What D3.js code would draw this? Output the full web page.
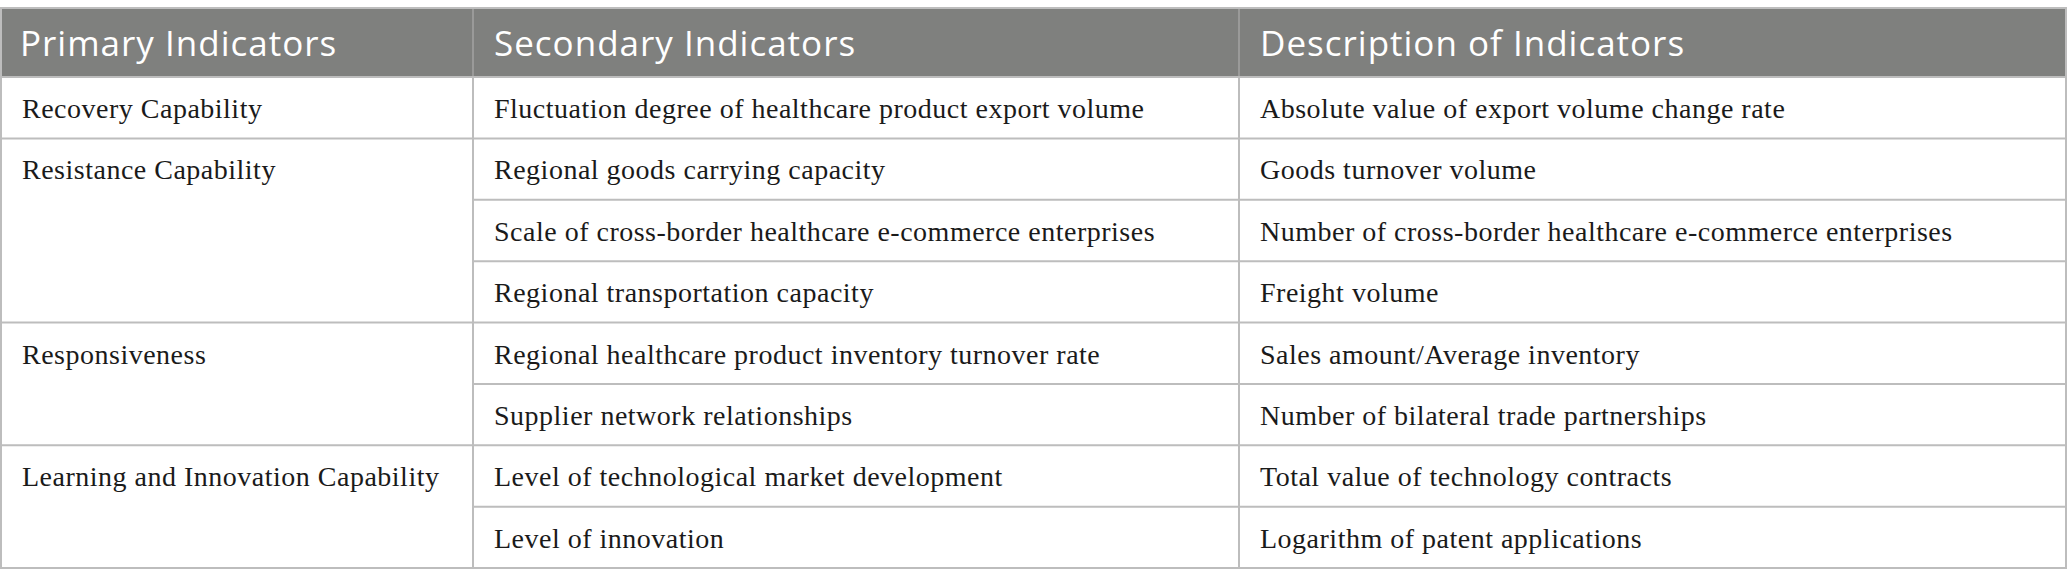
<!DOCTYPE html>
<html>
<head>
<meta charset="utf-8">
<script src="https://cdn.jsdelivr.net/npm/d3@7/dist/d3.min.js"></script>
<style>
  html, body { margin: 0; padding: 0; background: #fff; }
  svg { display: block; }
</style>
</head>
<body>
<svg id="chart" width="2067" height="586"></svg>
<script>
// ---- data ----
const headers = ["Primary Indicators", "Secondary Indicators", "Description of Indicators"];
const primaryIndicators = ["Recovery Capability", "Resistance Capability", "Responsiveness", "Learning and Innovation Capability"];
const primarySpans = [1, 3, 2, 2];
const secondaryIndicators = [
  "Fluctuation degree of healthcare product export volume",
  "Regional goods carrying capacity",
  "Scale of cross-border healthcare e-commerce enterprises",
  "Regional transportation capacity",
  "Regional healthcare product inventory turnover rate",
  "Supplier network relationships",
  "Level of technological market development",
  "Level of innovation"
];
const descriptions = [
  "Absolute value of export volume change rate",
  "Goods turnover volume",
  "Number of cross-border healthcare e-commerce enterprises",
  "Freight volume",
  "Sales amount/Average inventory",
  "Number of bilateral trade partnerships",
  "Total value of technology contracts",
  "Logarithm of patent applications"
];

// ---- layout ----
const tLeft = 1, tRight = 2066, tTop = 8, headerBottom = 77, tBottom = 568;
const colEdges = [tLeft, 473, 1239, tRight];
const padX = 21;
const lineColor = "#bdbdbd";
const headerFill = "#7f807e";

const svg = d3.select("#chart");
const nRows = secondaryIndicators.length;
const y = d3.scaleLinear().domain([0, nRows]).range([headerBottom, tBottom]);
const x = d3.scaleOrdinal().domain([0, 1, 2, 3]).range(colEdges);

// header background
svg.append("rect")
  .attr("x", tLeft).attr("y", tTop)
  .attr("width", tRight - tLeft).attr("height", headerBottom - tTop)
  .attr("fill", headerFill);

// header column separators
svg.selectAll("line.hsep").data([1, 2]).enter().append("line")
  .attr("x1", d => x(d)).attr("x2", d => x(d))
  .attr("y1", tTop).attr("y2", headerBottom)
  .attr("stroke", "#a3a3a3").attr("stroke-width", 1.5);

// header text
svg.selectAll("text.head").data(headers).enter().append("text")
  .attr("x", (d, i) => x(i) + (i === 0 ? padX - 2 : padX))
  .attr("y", 56)
  .attr("fill", "#ffffff")
  .style("font-family", "'Open Sans', sans-serif")
  .style("font-size", "35px")
  .style("letter-spacing", "1px")
  .text(d => d);

// primary row starts
let starts = [];
let acc = 0;
primarySpans.forEach(s => { starts.push(acc); acc += s; });

// horizontal lines for columns 2-3 (every row)
svg.selectAll("line.rowline").data(d3.range(1, nRows)).enter().append("line")
  .attr("x1", x(1)).attr("x2", tRight)
  .attr("y1", d => y(d)).attr("y2", d => y(d))
  .attr("stroke", lineColor).attr("stroke-width", 2);

// horizontal lines for column 1 (group boundaries)
svg.selectAll("line.grpline").data(starts.slice(1)).enter().append("line")
  .attr("x1", tLeft).attr("x2", x(1))
  .attr("y1", d => y(d)).attr("y2", d => y(d))
  .attr("stroke", lineColor).attr("stroke-width", 2);

// header bottom line + table outline
svg.append("line")
  .attr("x1", tLeft).attr("x2", tRight)
  .attr("y1", headerBottom).attr("y2", headerBottom)
  .attr("stroke", lineColor).attr("stroke-width", 2);
svg.append("rect")
  .attr("x", tLeft).attr("y", tTop)
  .attr("width", tRight - tLeft).attr("height", tBottom - tTop)
  .attr("fill", "none").attr("stroke", lineColor).attr("stroke-width", 2);

// vertical separators in body
svg.selectAll("line.vsep").data([1, 2]).enter().append("line")
  .attr("x1", d => x(d)).attr("x2", d => x(d))
  .attr("y1", headerBottom).attr("y2", tBottom)
  .attr("stroke", lineColor).attr("stroke-width", 2);

const bodyFont = "'Liberation Serif', 'Times New Roman', serif";
const bodySize = "28px";
const bodySpacing = "0.5px";
const baseOff = 41;

function bodyText(sel) {
  sel.attr("fill", "#1a1a1a")
    .style("font-family", bodyFont)
    .style("font-size", bodySize)
    .style("letter-spacing", bodySpacing)
    .text(d => d);
}

// primary text
svg.selectAll("text.prim").data(primaryIndicators).enter().append("text")
  .attr("x", x(0) + padX)
  .attr("y", (d, i) => y(starts[i]) + baseOff)
  .call(bodyText);

svg.selectAll("text.sec").data(secondaryIndicators).enter().append("text")
  .attr("x", x(1) + padX)
  .attr("y", (d, i) => y(i) + baseOff)
  .call(bodyText);

svg.selectAll("text.desc").data(descriptions).enter().append("text")
  .attr("x", x(2) + padX)
  .attr("y", (d, i) => y(i) + baseOff)
  .call(bodyText);
</script>
</body>
</html>
